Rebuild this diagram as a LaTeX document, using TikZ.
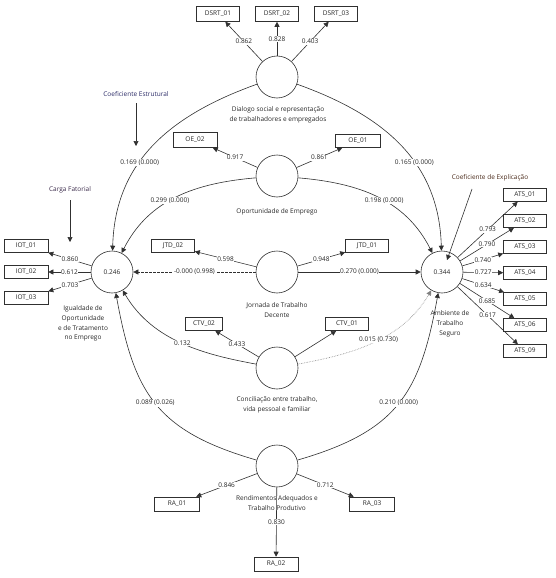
\documentclass[tikz,border=0pt]{standalone}
\usepackage{fontspec}
\setmainfont{Open Sans}
\usetikzlibrary{arrows.meta}
\definecolor{txt}{HTML}{262626}
\definecolor{ln}{HTML}{303030}
\definecolor{estr}{HTML}{2A2A66}
\definecolor{carga}{HTML}{3A2A4A}
\definecolor{expl}{HTML}{4A2A1A}
\begin{document}
\begin{tikzpicture}[x=1pt,y=-1pt,
  every node/.style={font=\fontsize{6.5}{9.7}\selectfont, text=txt},
  lv/.style={draw=ln, circle, minimum size=42pt, inner sep=0pt, line width=0.6pt, fill=white},
  ind/.style={draw=ln, rectangle, minimum width=43pt, minimum height=13pt, inner sep=0pt, line width=0.6pt, fill=white},
  arr/.style={draw=ln, -{Triangle[length=5pt,width=5pt]}, line width=0.6pt},
  lbl/.style={fill=white, inner sep=0.6pt},
  desc/.style={align=center, inner sep=0pt},
]
\useasboundingbox (0,0) rectangle (555,578);

% latent variables
\node[lv] (dsrt) at (277,77) {};
\node[lv] (oe) at (277,176) {};
\node[lv] (jtd) at (277,272) {};
\node[lv] (ctv) at (277,368) {};
\node[lv] (ra) at (277,466) {};
\node[lv] (iot) at (112,272) {0.246};
\node[lv] (ats) at (442,272) {0.344};

% indicators
\node[ind, minimum height=15pt] (dsrt1) at (218,14) {DSRT\_01};
\node[ind, minimum height=15pt] (dsrt2) at (277,14) {DSRT\_02};
\node[ind, minimum height=15pt] (dsrt3) at (336,14) {DSRT\_03};
\node[ind, minimum width=44pt, minimum height=15pt] (oe2) at (195,140) {OE\_02};
\node[ind, minimum width=45pt] (oe1) at (358,141) {OE\_01};
\node[ind] (jtd2) at (173,246) {JTD\_02};
\node[ind] (jtd1) at (367,246) {JTD\_01};
\node[ind, minimum width=37pt] (ctv2) at (204,324) {CTV\_02};
\node[ind] (ctv1) at (347,324) {CTV\_01};
\node[ind, minimum width=44pt] (iot1) at (26,246) {IOT\_01};
\node[ind, minimum width=44pt] (iot2) at (26,272) {IOT\_02};
\node[ind, minimum width=44pt] (iot3) at (26,298) {IOT\_03};
\node[ind] (ats1) at (525,195) {ATS\_01};
\node[ind] (ats2) at (525,221) {ATS\_02};
\node[ind] (ats3) at (525,247) {ATS\_03};
\node[ind] (ats4) at (525,273) {ATS\_04};
\node[ind] (ats5) at (525,299) {ATS\_05};
\node[ind] (ats6) at (525,325) {ATS\_06};
\node[ind] (ats9) at (525,351) {ATS\_09};
\node[ind, minimum width=45pt, minimum height=14pt] (ra1) at (177,504) {RA\_01};
\node[ind, minimum width=45pt, minimum height=14pt] (ra3) at (372,504) {RA\_03};
\node[ind, minimum width=44pt, minimum height=14pt] (ra2) at (276,564) {RA\_02};

% descriptions
\node[desc] (tdsrt) at (278,115) {Dialogo social e representação\\de trabalhadores e empregados};
\node[desc] (toe) at (277,212) {Oportunidade de Emprego};
\node[desc] (tjtd) at (277,310) {Jornada de Trabalho\\Decente};
\node[desc] (tctv) at (277,405) {Conciliação entre trabalho,\\vida pessoal e familiar};
\node[desc] (tra) at (277,503) {Rendimentos Adequados e\\Trabalho Produtivo};
\node[desc] (tiot) at (83,323.5) {Igualdade de\\Oportunidade\\e de Tratamento\\no Emprego};
\node[desc] (tats) at (450,324) {Ambiente de\\Trabalho\\Seguro};

% outer loadings
\draw[arr] (dsrt) -- (dsrt1) node[lbl,pos=0.5] {0.862};
\draw[arr] (dsrt) -- (dsrt2) node[lbl,pos=0.5] {0.828};
\draw[arr] (dsrt) -- (dsrt3) node[lbl,pos=0.5] {0.403};
\draw[arr] (oe) -- (oe2) node[lbl,pos=0.5] {0.917};
\draw[arr] (oe) -- (oe1) node[lbl,pos=0.5] {0.861};
\draw[arr] (jtd) -- (jtd2) node[lbl,pos=0.5] {0.598};
\draw[arr] (jtd) -- (jtd1) node[lbl,pos=0.5] {0.948};
\draw[arr] (ctv) -- (ctv2) node[lbl,pos=0.5] {0.433};
\draw[arr] (ctv) -- (ctv1);
\draw[arr] (iot) -- (iot1) node[lbl,pos=0.5] {0.860};
\draw[arr] (iot) -- (iot2) node[lbl,pos=0.5] {0.612};
\draw[arr] (iot) -- (iot3) node[lbl,pos=0.5] {0.703};
\draw[arr] (ats) -- (ats1) node[lbl,pos=0.5] {0.793};
\draw[arr] (ats) -- (ats2) node[lbl,pos=0.5] {0.790};
\draw[arr] (ats) -- (ats3) node[lbl,pos=0.5] {0.740};
\draw[arr] (ats) -- (ats4) node[lbl,pos=0.5] {0.727};
\draw[arr] (ats) -- (ats5) node[lbl,pos=0.5] {0.634};
\draw[arr] (ats) -- (ats6) node[lbl,pos=0.5] {0.685};
\draw[arr] (ats) -- (ats9) node[lbl,pos=0.5] {0.617};
\draw[arr] (ra) -- (ra1) node[lbl,pos=0.5] {0.846};
\draw[arr] (ra) -- (ra3) node[lbl,pos=0.5] {0.712};
\draw[arr] (ra) -- (ra2) node[lbl,pos=0.5] {0.830};

% structural paths
\draw[arr] (dsrt) .. controls (171,115) and (115,161) .. (iot) node[lbl,pos=0.6] {0.169 (0.000)};
\draw[arr] (dsrt) .. controls (383,115) and (439,161) .. (ats) node[lbl,pos=0.6] {0.165 (0.000)};
\draw[arr] (oe) .. controls (196,183) and (149,199) .. (iot) node[lbl,pos=0.55] {0.299 (0.000)};
\draw[arr] (oe) .. controls (358,183) and (405,199) .. (ats) node[lbl,pos=0.55] {0.198 (0.000)};
\draw[arr, dash pattern=on 2.5pt off 1.5pt] (jtd) -- (iot) node[lbl,pos=0.5] {-0.000 (0.998)};
\draw[arr] (jtd) -- (ats) node[lbl,pos=0.5] {0.270 (0.000)};
\draw[arr] (ctv) .. controls (207,355) and (153,342) .. (iot) node[lbl,pos=0.5] {0.132};
\draw[arr, draw=gray, densely dotted] (ctv) .. controls (347,355) and (401,342) .. (ats) node[lbl,pos=0.55] {0.015 (0.730)};
\draw[arr] (ra) .. controls (156,431) and (134,393) .. (iot) node[lbl,pos=0.5] {0.089 (0.026)};
\draw[arr] (ra) .. controls (398,431) and (420,393) .. (ats) node[lbl,pos=0.5] {0.210 (0.000)};

% annotations
\node[text=estr] (lestr) at (136,94) {Coeficiente Estrutural};
\coordinate (estrA) at (136,103);
\coordinate (estrB) at (136,146);
\draw[arr] (estrA) -- (estrB);
\node[text=carga] (lcarga) at (70,190) {Carga Fatorial};
\coordinate (cargaA) at (70,200);
\coordinate (cargaB) at (70,242);
\draw[arr] (cargaA) -- (cargaB);
\node[text=expl] (lexpl) at (490,178) {Coeficiente de Explicação};
\coordinate (explA) at (472,189);
\coordinate (explB) at (447,260);
\draw[arr] (explA) -- (explB);
\end{tikzpicture}
\end{document}
